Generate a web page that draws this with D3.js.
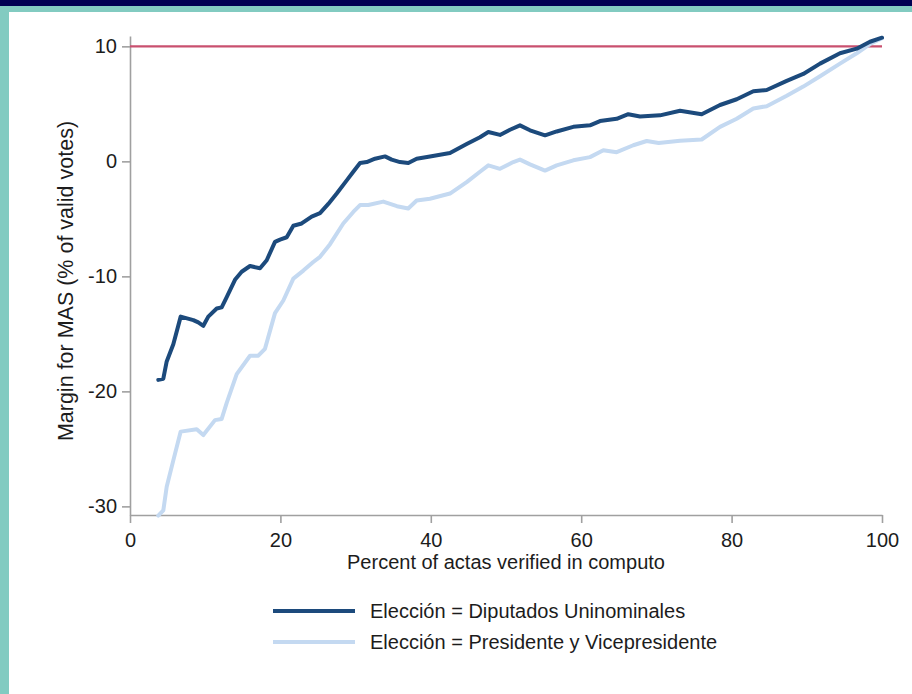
<!DOCTYPE html>
<html>
<head>
<meta charset="utf-8">
<script src="https://cdn.jsdelivr.net/npm/d3@7"></script>
<style>
  html, body { margin: 0; padding: 0; background: #ffffff; }
  svg { display: block; font-family: "Liberation Sans", Arial, Helvetica, sans-serif; }
</style>
</head>
<body>
<svg id="chart" width="912" height="694"></svg>
<script>
// Running MAS margin as actas are verified, by election type
const pctDiputados = [3.76, 4.43, 4.88, 5.76, 6.74, 8.42, 9.08, 9.75, 10.41, 11.53, 12.19, 12.86, 13.96, 14.85, 15.96, 17.29, 18.18, 19.28, 19.95, 20.84, 21.72, 22.83, 24.16, 25.27, 26.37, 27.49, 28.82, 29.69, 30.59, 31.48, 32.58, 33.91, 34.8, 35.9, 37.01, 38.12, 39.89, 42.55, 44.77, 46.54, 47.65, 49.2, 50.53, 51.86, 53.19, 55.19, 56.74, 58.95, 61.17, 62.5, 64.72, 66.26, 67.82, 70.48, 73.14, 76.02, 78.46, 80.68, 82.89, 84.67, 87.33, 89.53, 91.76, 94.41, 96.64, 98.4, 100];
const marginDiputados = [-19.0, -18.9, -17.4, -15.9, -13.5, -13.8, -14.0, -14.3, -13.5, -12.8, -12.7, -11.8, -10.3, -9.6, -9.1, -9.3, -8.6, -7.0, -6.8, -6.6, -5.6, -5.4, -4.8, -4.5, -3.7, -2.8, -1.65, -0.9, -0.15, -0.06, 0.23, 0.43, 0.15, -0.06, -0.15, 0.23, 0.43, 0.72, 1.5, 2.1, 2.55, 2.3, 2.75, 3.13, 2.7, 2.26, 2.6, 3.0, 3.13, 3.5, 3.7, 4.1, 3.9, 4.0, 4.4, 4.1, 4.9, 5.4, 6.1, 6.2, 7.0, 7.6, 8.5, 9.4, 9.8, 10.4, 10.75];

const pctPresidente = [3.76, 4.43, 4.88, 5.76, 6.74, 8.87, 9.75, 11.3, 12.19, 12.86, 14.19, 15.96, 17.06, 17.95, 19.28, 20.39, 21.72, 23.05, 24.37, 25.27, 26.6, 28.36, 29.69, 30.59, 31.69, 33.68, 35.5, 37.0, 38.12, 39.89, 42.55, 44.77, 46.54, 47.65, 49.2, 50.97, 51.86, 53.19, 55.19, 56.74, 58.95, 61.17, 62.94, 64.72, 66.93, 68.71, 70.3, 73.14, 76.02, 78.46, 80.68, 82.89, 84.67, 87.33, 89.53, 91.76, 94.41, 96.64, 98.4, 100];
const marginPresidente = [-30.8, -30.35, -28.3, -26.0, -23.5, -23.3, -23.8, -22.5, -22.4, -21.0, -18.5, -16.9, -16.9, -16.3, -13.2, -12.1, -10.2, -9.5, -8.75, -8.3, -7.2, -5.4, -4.4, -3.8, -3.8, -3.5, -3.9, -4.1, -3.4, -3.25, -2.8, -1.8, -0.9, -0.35, -0.65, -0.06, 0.15, -0.26, -0.8, -0.35, 0.09, 0.37, 0.96, 0.8, 1.4, 1.77, 1.6, 1.8, 1.9, 3.0, 3.7, 4.6, 4.8, 5.7, 6.5, 7.4, 8.5, 9.4, 10.2, 10.7];

const xTicks = [0, 20, 40, 60, 80, 100];
const yTicks = [-30, -20, -10, 0, 10];
const referenceMargin = 10;

const seriesNames = ["Elección = Diputados Uninominales", "Elección = Presidente y Vicepresidente"];
const seriesColors = ["#1c4a7c", "#c4d9f1"];

const svg = d3.select("#chart");

// page frame
svg.append("rect").attr("x", 0).attr("y", 0).attr("width", 912).attr("height", 694).attr("fill", "#ffffff");
svg.append("rect").attr("x", 0).attr("y", 0).attr("width", 912).attr("height", 6).attr("fill", "#000052");
svg.append("rect").attr("x", 0).attr("y", 6).attr("width", 912).attr("height", 6).attr("fill", "#82cbc1");
svg.append("rect").attr("x", 0).attr("y", 6).attr("width", 9).attr("height", 688).attr("fill", "#82cbc1");

const x = d3.scaleLinear().domain([0, 100]).range([130, 882]);
const y = d3.scaleLinear().domain([-30.75, 10.9]).range([515, 36]);

const axisColor = "#a0a0a0";
const textColor = "#1c1c1c";
const fontSize = 20;
const plainNumber = d => String(d);

// y axis
const yAxis = svg.append("g")
  .attr("transform", `translate(${x(0)},0)`)
  .call(d3.axisLeft(y).tickValues(yTicks).tickFormat(plainNumber).tickSize(8).tickSizeOuter(0).tickPadding(5));

// x axis
const xAxis = svg.append("g")
  .attr("transform", `translate(0,${y.range()[0]})`)
  .call(d3.axisBottom(x).tickValues(xTicks).tickFormat(plainNumber).tickSize(8).tickSizeOuter(0).tickPadding(10));

[yAxis, xAxis].forEach(g => {
  g.select(".domain").attr("stroke", axisColor).attr("stroke-width", 1.6);
  g.selectAll(".tick line").attr("stroke", axisColor).attr("stroke-width", 1.6);
  g.selectAll(".tick text")
    .attr("fill", textColor)
    .style("font-size", fontSize + "px")
    .style("font-family", "'Liberation Sans', Arial, sans-serif");
});

// reference line at 10 points
svg.append("line")
  .attr("x1", x(0)).attr("x2", x(100))
  .attr("y1", y(referenceMargin)).attr("y2", y(referenceMargin))
  .attr("stroke", "#c9506f").attr("stroke-width", 2.2);

// series lines
const line = d3.line()
  .x(d => x(d[0]))
  .y(d => y(d[1]));

const presidenteData = pctPresidente.map((p, i) => [p, marginPresidente[i]]);
const diputadosData = pctDiputados.map((p, i) => [p, marginDiputados[i]]);

svg.append("path")
  .datum(presidenteData)
  .attr("d", line)
  .attr("fill", "none")
  .attr("stroke", seriesColors[1])
  .attr("stroke-width", 4)
  .attr("stroke-linejoin", "round")
  .attr("stroke-linecap", "round");

svg.append("path")
  .datum(diputadosData)
  .attr("d", line)
  .attr("fill", "none")
  .attr("stroke", seriesColors[0])
  .attr("stroke-width", 4)
  .attr("stroke-linejoin", "round")
  .attr("stroke-linecap", "round");

// axis titles
svg.append("text")
  .attr("x", (x(0) + x(100)) / 2)
  .attr("y", 569)
  .attr("text-anchor", "middle")
  .attr("fill", textColor)
  .style("font-size", fontSize + "px")
  .text("Percent of actas verified in computo");

svg.append("text")
  .attr("transform", "translate(73,281) rotate(-90)")
  .attr("text-anchor", "middle")
  .attr("fill", textColor)
  .style("font-size", "21.5px")
  .text("Margin for MAS (% of valid votes)");

// legend
const legendRows = [611, 642];
seriesNames.forEach((name, i) => {
  svg.append("line")
    .attr("x1", 273).attr("x2", 355)
    .attr("y1", legendRows[i]).attr("y2", legendRows[i])
    .attr("stroke", seriesColors[i]).attr("stroke-width", 4);
  svg.append("text")
    .attr("x", 370)
    .attr("y", legendRows[i])
    .attr("dy", "0.35em")
    .attr("fill", textColor)
    .style("font-size", fontSize + "px")
    .text(name);
});
</script>
</body>
</html>
